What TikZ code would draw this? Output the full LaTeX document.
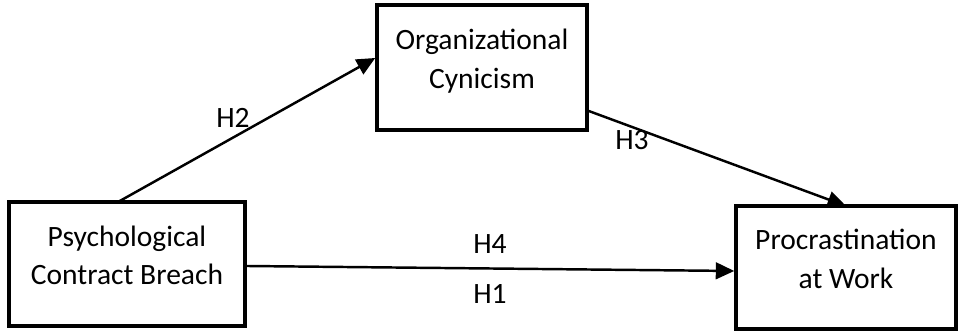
\documentclass[tikz,border=0pt]{standalone}
\usepackage{fontspec}
\setmainfont{Carlito}
\usetikzlibrary{arrows.meta}

\begin{document}
\begin{tikzpicture}[x=1cm,y=1cm,
  box/.style={draw, line width=2pt, align=center, inner sep=0pt,
    font=\fontsize{16.8pt}{22pt}\selectfont, text depth=0.35cm},
  link/.style={-{Triangle[length=10.5pt,width=9.5pt]}, line width=1.4pt},
  hyp/.style={font=\fontsize{16.8pt}{22pt}\selectfont}]
\useasboundingbox (0,0) rectangle (19.24,6.62);
\node[box, minimum width=4.72cm, minimum height=2.48cm] (breach) at (2.54,1.34) {Psychological\\Contract Breach};
\node[box, minimum width=4.20cm, minimum height=2.50cm] (cynic) at (9.64,5.27) {Organizational\\Cynicism};
\node[box, minimum width=4.40cm, minimum height=2.46cm] (procr) at (16.92,1.27) {Procrastination\\at Work};
% paths
\coordinate (a) at (2.36,2.58);
\draw[link] (a) -- (cynic.west |- 0,5.46);
\draw[link] (cynic.east |- 0,4.40) -- (17.10,2.50 -| procr.north);
\draw[link] (breach.east |- 0,1.30) -- (procr.west |- 0,1.20);
\node[hyp] (h2) at (4.66,4.26) {H2};
\node[hyp] (h3) at (12.64,3.82) {H3};
\node[hyp] (h4) at (9.80,1.74) {H4};
\node[hyp] (h1) at (9.80,0.74) {H1};
\end{tikzpicture}
\end{document}
